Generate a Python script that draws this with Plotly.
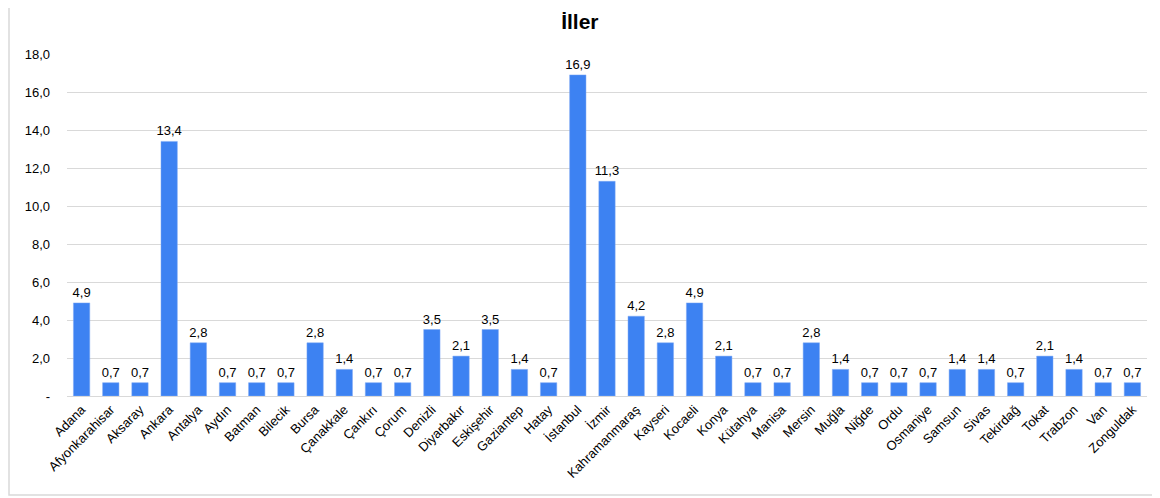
import plotly.graph_objects as go

cities = ["Adana", "Afyonkarahisar", "Aksaray", "Ankara", "Antalya", "Aydın", "Batman", "Bilecik",
          "Bursa", "Çanakkale", "Çankırı", "Çorum", "Denizli", "Diyarbakır", "Eskişehir", "Gaziantep",
          "Hatay", "İstanbul", "İzmir", "Kahramanmaraş", "Kayseri", "Kocaeli", "Konya", "Kütahya",
          "Manisa", "Mersin", "Muğla", "Niğde", "Ordu", "Osmaniye", "Samsun", "Sivas", "Tekirdağ",
          "Tokat", "Trabzon", "Van", "Zonguldak"]
values = [4.9, 0.7, 0.7, 13.4, 2.8, 0.7, 0.7, 0.7,
          2.8, 1.4, 0.7, 0.7, 3.5, 2.1, 3.5, 1.4,
          0.7, 16.9, 11.3, 4.2, 2.8, 4.9, 2.1, 0.7,
          0.7, 2.8, 1.4, 0.7, 0.7, 0.7, 1.4, 1.4, 0.7,
          2.1, 1.4, 0.7, 0.7]
tick_vals = [0, 2, 4, 6, 8, 10, 12, 14, 16, 18]
tick_text = ["-", "2,0", "4,0", "6,0", "8,0", "10,0", "12,0", "14,0", "16,0", "18,0"]

labels = [f"{v:.1f}".replace(".", ",") for v in values]

fig = go.Figure(go.Bar(
    x=cities, y=values, text=labels, textposition="outside",
    constraintext="none",
    textfont=dict(family="Liberation Sans, Arial", size=13, color="black"),
    marker=dict(color="#3D82F2", line=dict(color="#7FA9F5", width=0.5)),
    cliponaxis=False,
))

fig.update_layout(
    width=1160, height=498,
    margin=dict(l=59, r=21, t=46, b=110),
    paper_bgcolor="white", plot_bgcolor="white",
    title=dict(text="<b>İller</b>", xref="container", yref="container",
               x=0.493, xanchor="center", y=0.972, yanchor="middle",
               font=dict(family="Liberation Sans, Arial", size=21, color="black")),
    bargap=0.44,
    showlegend=False,
    font=dict(family="Liberation Sans, Arial", size=13, color="black"),
    xaxis=dict(tickangle=-45, tickfont=dict(size=13), showgrid=False,
               showline=True, linecolor="#d9d9d9", linewidth=1, ticks=""),
    yaxis=dict(range=[0, 18], tickvals=tick_vals, ticktext=tick_text, showgrid=True,
               gridcolor="#d9d9d9", gridwidth=1, zeroline=False, ticks="",
               tickfont=dict(size=13), ticklabelstandoff=16),
    shapes=[dict(type="rect", xref="paper", yref="paper",
                 x0=-58 / 1080, x1=1.2, y0=-99 / 342, y1=1.3,
                 line=dict(color="#d9d9d9", width=1.5), fillcolor="rgba(0,0,0,0)", layer="below")],
)

fig.write_html("out.html")
